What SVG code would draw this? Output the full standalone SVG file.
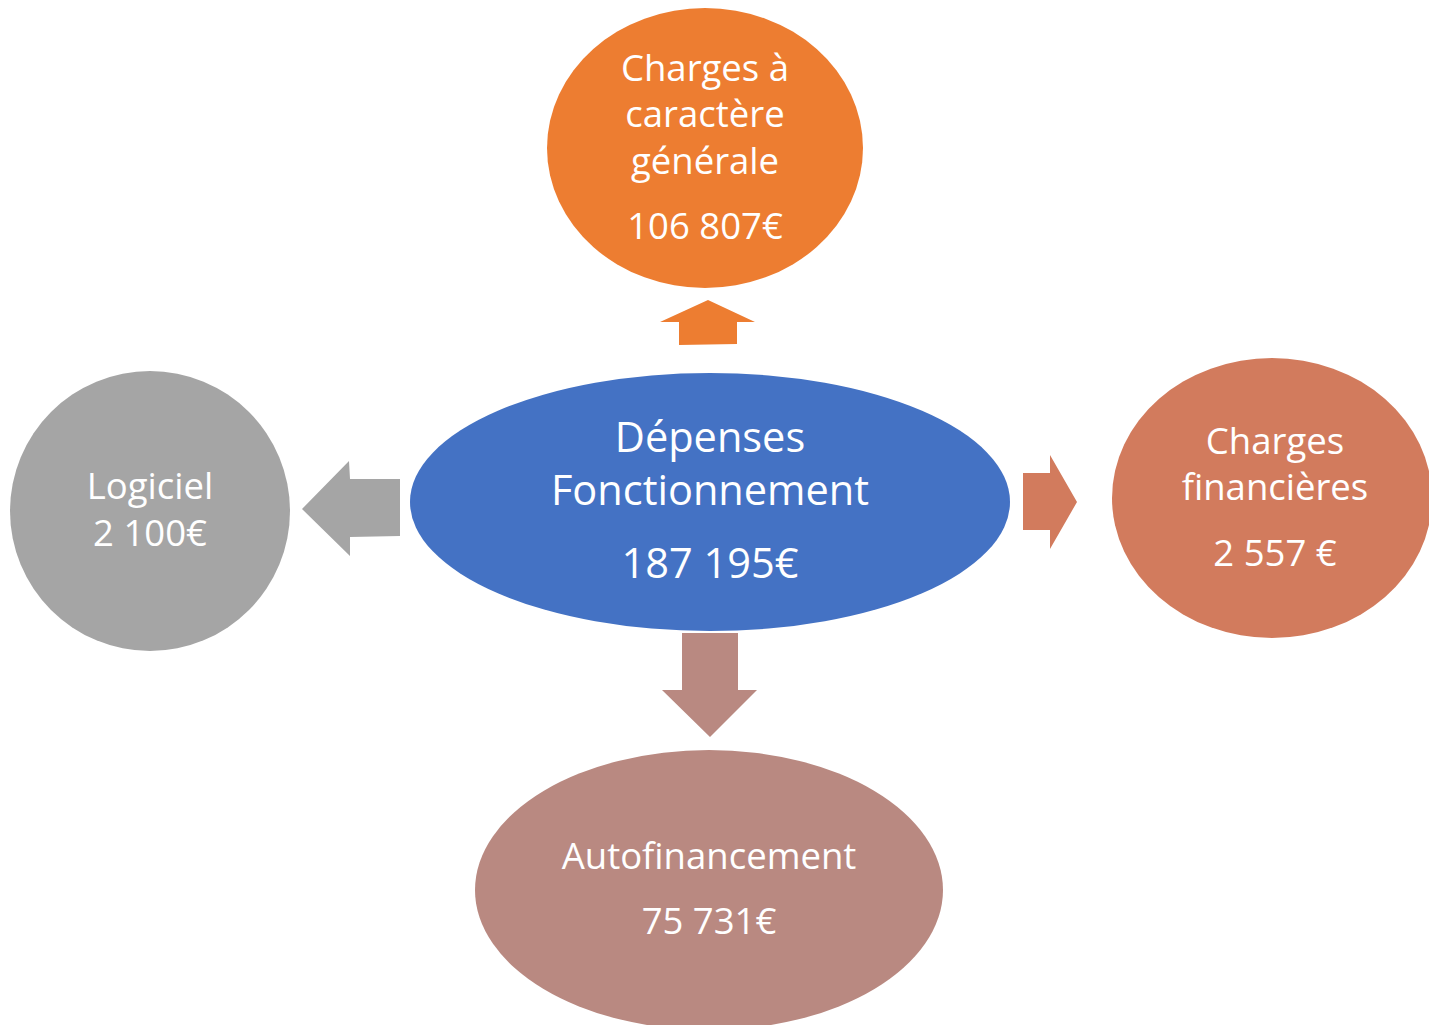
<svg xmlns="http://www.w3.org/2000/svg" width="1429" height="1025" viewBox="0 0 1429 1025">
  <style>
    text { font-family: "Open Sans", "Liberation Sans", sans-serif; fill: #ffffff; text-anchor: middle; }
    .t { font-size: 36.5px; }
    .c { font-size: 41.5px; }
  </style>
  <rect width="1429" height="1025" fill="#ffffff"/>

  <g id="connectors">
    <polygon points="708,300 755,322 737,322 737,344 679,345 679,322 660,322" fill="#ED7D31"/>
    <polygon points="302,509 349,461 350,479 400,479 400,536 350,537 350,556" fill="#A5A5A5"/>
    <polygon points="1023,473 1050,473 1050,455 1077,502 1050,549 1050,530 1023,530" fill="#D27B5D"/>
    <polygon points="682,633 738,633 738,690 757,690 710,737 662,690 682,690" fill="#B98981"/>
  </g>

  <g id="node-charges-generales">
    <ellipse cx="705" cy="148" rx="158" ry="140" fill="#ED7D31"/>
    <text class="t" x="705" y="81">Charges à</text>
    <text class="t" x="705" y="127">caractère</text>
    <text class="t" x="705" y="174">générale</text>
    <text class="t" x="705" y="239">106 807€</text>
  </g>

  <g id="node-depenses">
    <ellipse cx="710" cy="502" rx="300" ry="129" fill="#4472C4"/>
    <text class="c" x="710" y="452">Dépenses</text>
    <text class="c" x="710" y="505">Fonctionnement</text>
    <text class="c" x="710" y="578">187 195€</text>
  </g>

  <g id="node-logiciel">
    <circle cx="150" cy="511" r="140" fill="#A5A5A5"/>
    <text class="t" x="150" y="499">Logiciel</text>
    <text class="t" x="150" y="546">2 100€</text>
  </g>

  <g id="node-charges-financieres">
    <ellipse cx="1272" cy="498" rx="160" ry="140" fill="#D27B5D"/>
    <text class="t" x="1275" y="454">Charges</text>
    <text class="t" x="1275" y="500">financières</text>
    <text class="t" x="1275" y="566">2 557 €</text>
  </g>

  <g id="node-autofinancement">
    <ellipse cx="709" cy="890" rx="234" ry="140" fill="#B98981"/>
    <text class="t" x="709" y="869">Autofinancement</text>
    <text class="t" x="709" y="934">75 731€</text>
  </g>
</svg>
